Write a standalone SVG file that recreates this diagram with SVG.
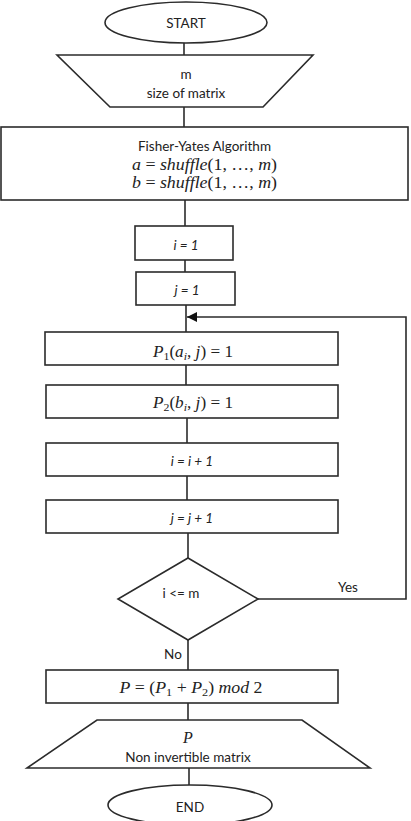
<svg xmlns="http://www.w3.org/2000/svg" width="411" height="821" viewBox="0 0 411 821">
<style>
.shape{fill:#fff;stroke:#2b2b2b;stroke-width:1.6}
.conn{fill:none;stroke:#2b2b2b;stroke-width:1.6}
.t{font-family:Lato,"Noto Sans","Liberation Sans",sans-serif;font-size:13.5px;fill:#222;text-anchor:middle}
.ti{font-family:Lato,"Noto Sans","Liberation Sans",sans-serif;font-size:13.5px;font-style:italic;fill:#222;text-anchor:middle}
.m{font-family:"Liberation Serif","DejaVu Serif",serif;font-size:16px;fill:#222;text-anchor:middle}
.it{font-style:italic}
.sub{font-size:11px}
</style>
<defs>
<marker id="arr" viewBox="0 0 10 10" refX="10" refY="5" markerWidth="10" markerHeight="10" markerUnits="userSpaceOnUse" orient="auto">
<path d="M0,0 L10,5 L0,10 z" fill="#111"/>
</marker>
</defs>
<rect width="411" height="821" fill="#fff"/>
<g id="connectors">
<line class="conn" x1="184" y1="43" x2="184" y2="55"/>
<line class="conn" x1="184" y1="107" x2="184" y2="127"/>
<line class="conn" x1="185" y1="200" x2="185" y2="226"/>
<line class="conn" x1="185" y1="260" x2="185" y2="272"/>
<line class="conn" x1="186" y1="305" x2="186" y2="332"/>
<line class="conn" x1="186" y1="365" x2="186" y2="385"/>
<line class="conn" x1="187" y1="418" x2="187" y2="443"/>
<line class="conn" x1="187" y1="476" x2="187" y2="500"/>
<line class="conn" x1="188" y1="533" x2="188" y2="558"/>
<line class="conn" x1="188" y1="640" x2="188" y2="670"/>
<line class="conn" x1="188" y1="703" x2="188" y2="720"/>
<line class="conn" x1="189" y1="768" x2="189" y2="785"/>
<polyline class="conn" points="258,599 406,599 406,317 187,317" marker-end="url(#arr)"/>
<text class="t" x="348" y="591.5">Yes</text>
<text class="t" x="173" y="658.5">No</text>
</g>
<g id="start">
<ellipse class="shape" cx="186" cy="22.5" rx="81" ry="20.5"/>
<text class="t" x="186" y="27.5">START</text>
</g>
<g id="input">
<polygon class="shape" points="57,55 313,55 263,107 110,107"/>
<text class="t" x="186" y="78.5">m</text>
<text class="t" x="186" y="97.5">size of matrix</text>
</g>
<g id="fisher">
<rect class="shape" x="1" y="127" width="407" height="73"/>
<text class="t" x="204.5" y="150.5">Fisher-Yates Algorithm</text>
<text class="m" x="204.5" y="170" textLength="145" lengthAdjust="spacingAndGlyphs"><tspan class="it">a</tspan> = <tspan class="it">shuffle</tspan>(1, …, <tspan class="it">m</tspan>)</text>
<text class="m" x="204.5" y="188" textLength="145" lengthAdjust="spacingAndGlyphs"><tspan class="it">b</tspan> = <tspan class="it">shuffle</tspan>(1, …, <tspan class="it">m</tspan>)</text>
</g>
<g id="init-i">
<rect class="shape" x="135" y="226" width="98" height="34"/>
<text class="ti" x="186" y="249.5">i = 1</text>
</g>
<g id="init-j">
<rect class="shape" x="136" y="272" width="99" height="33"/>
<text class="ti" x="187" y="295">j =  1</text>
</g>
<g id="set-p1">
<rect class="shape" x="45" y="332" width="293" height="33"/>
<text class="m" x="193" y="356.5" textLength="80" lengthAdjust="spacingAndGlyphs"><tspan class="it">P</tspan><tspan class="sub" dy="3">1</tspan><tspan dy="-3">(</tspan><tspan class="it">a</tspan><tspan class="sub it" dy="3">i</tspan><tspan dy="-3">, </tspan><tspan class="it">j</tspan>) = 1</text>
</g>
<g id="set-p2">
<rect class="shape" x="46" y="385" width="292" height="33"/>
<text class="m" x="193" y="407.5" textLength="80" lengthAdjust="spacingAndGlyphs"><tspan class="it">P</tspan><tspan class="sub" dy="3">2</tspan><tspan dy="-3">(</tspan><tspan class="it">b</tspan><tspan class="sub it" dy="3">i</tspan><tspan dy="-3">, </tspan><tspan class="it">j</tspan>) = 1</text>
</g>
<g id="inc-i">
<rect class="shape" x="46" y="443" width="292" height="33"/>
<text class="ti" x="192" y="466">i = i + 1</text>
</g>
<g id="inc-j">
<rect class="shape" x="46" y="500" width="292" height="33"/>
<text class="ti" x="192" y="522.5">j = j + 1</text>
</g>
<g id="decision">
<polygon class="shape" points="188,558 258,599 188,640 118,599"/>
<text class="t" x="181" y="597.5">i &lt;= m</text>
</g>
<g id="compute-p">
<rect class="shape" x="46" y="670" width="292" height="33"/>
<text class="m" x="191" y="692.5" textLength="143" lengthAdjust="spacingAndGlyphs"><tspan class="it">P</tspan> = (<tspan class="it">P</tspan><tspan class="sub" dy="3">1</tspan><tspan dy="-3"> +  </tspan><tspan class="it">P</tspan><tspan class="sub" dy="3">2</tspan><tspan dy="-3">) </tspan><tspan class="it">mod</tspan> 2</text>
</g>
<g id="output">
<polygon class="shape" points="97,720 302,720 370,768 27,768"/>
<text class="m it" x="188" y="743">P</text>
<text class="t" x="188" y="761.5">Non invertible matrix</text>
</g>
<g id="end">
<ellipse class="shape" cx="190" cy="805" rx="82" ry="20"/>
<text class="t" x="190" y="811.5">END</text>
</g>
</svg>
